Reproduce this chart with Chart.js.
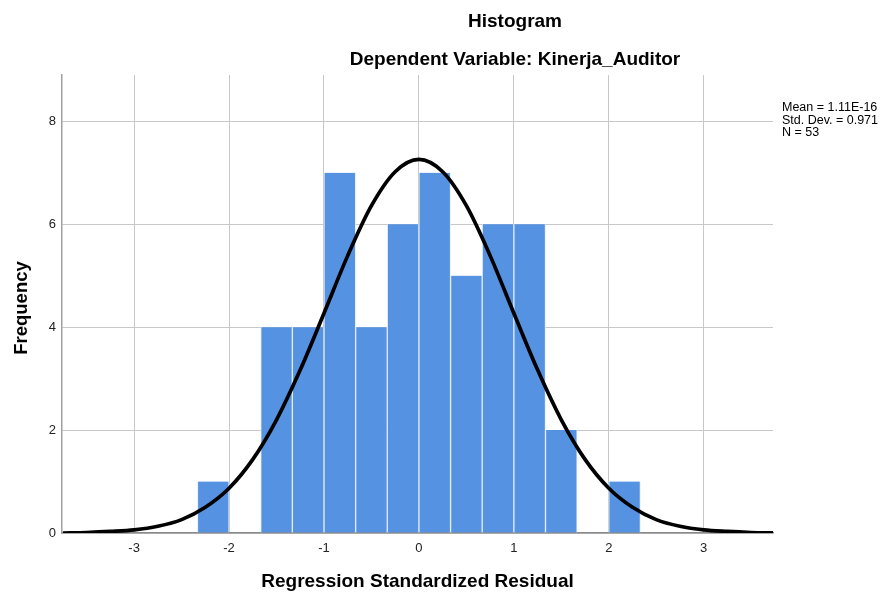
<!DOCTYPE html>
<html>
<head>
<meta charset="utf-8">
<script src="https://cdn.jsdelivr.net/npm/chart.js@4.4.1/dist/chart.umd.min.js"></script>
<style>
  html, body { margin: 0; padding: 0; background: #fff; }
  #wrap { width: 885px; height: 592px; position: relative; }
</style>
</head>
<body>
<div id="wrap"><canvas id="c" width="885" height="592"></canvas></div>
<script>
// Histogram bins (centres of 1/3-wide bins) and counts
const binCenters = [-2.1667, -1.8333, -1.5, -1.1667, -0.8333, -0.5, -0.1667, 0.1667, 0.5, 0.8333, 1.1667, 1.5, 1.8333, 2.1667];
const binCounts  = [1, 0, 4, 4, 7, 4, 6, 7, 5, 6, 6, 2, 0, 1];

// Normal curve
const curveX = [-3.75, -3.5, -3.25, -3, -2.75, -2.5, -2.25, -2, -1.75, -1.5, -1.25, -1, -0.75, -0.5, -0.25, 0, 0.25, 0.5, 0.75, 1, 1.25, 1.5, 1.75, 2, 2.25, 2.5, 2.75, 3, 3.25, 3.5, 3.75];
const curveY = [0.00, 0.01, 0.03, 0.06, 0.13, 0.26, 0.50, 0.87, 1.43, 2.20, 3.17, 4.27, 5.39, 6.36, 7.02, 7.26, 7.02, 6.36, 5.39, 4.27, 3.17, 2.20, 1.43, 0.87, 0.50, 0.26, 0.13, 0.06, 0.03, 0.01, 0.00];

const xTicks = [-3, -2, -1, 0, 1, 2, 3];
const yTicks = [0, 2, 4, 6, 8];

const titleLines = ["Histogram", "Dependent Variable: Kinerja_Auditor"];
const statsLines = ["Mean = 1.11E-16", "Std. Dev. = 0.971", "N = 53"];
const xTitle = "Regression Standardized Residual";
const yTitle = "Frequency";

const FONT = "'Liberation Sans', Arial, sans-serif";

const textPlugin = {
  id: 'texts',
  afterDraw(chart) {
    const ctx = chart.ctx;
    ctx.save();
    ctx.fillStyle = '#000';
    ctx.textAlign = 'center';
    ctx.textBaseline = 'middle';
    ctx.font = "bold 19px " + FONT;
    ctx.fillText(titleLines[0], 515, 22);
    ctx.fillText(titleLines[1], 515, 60);
    // y-axis title
    ctx.save();
    ctx.translate(22, 308);
    ctx.rotate(-Math.PI / 2);
    ctx.font = "bold 18.5px " + FONT;
    ctx.fillText(yTitle, 0, 0);
    ctx.restore();
    ctx.textAlign = 'left';
    ctx.font = "12.5px " + FONT;
    statsLines.forEach((s, i) => ctx.fillText(s, 782, 108 + i * 12.5));
    ctx.restore();
  }
};

new Chart(document.getElementById('c'), {
  type: 'bar',
  data: {
    datasets: [
      {
        type: 'line',
        data: curveX.map((x, i) => ({ x: x, y: curveY[i] })),
        borderColor: '#000',
        borderWidth: 3.7,
        pointRadius: 0,
        cubicInterpolationMode: 'monotone',
        fill: false,
        order: 0
      },
      {
        type: 'bar',
        data: binCenters.map((x, i) => ({ x: x, y: binCounts[i] })),
        backgroundColor: '#5592e2',
        borderColor: 'rgba(225,236,250,0.95)',
        borderWidth: { left: 1, right: 1, top: 0, bottom: 0 },
        borderSkipped: false,
        barPercentage: 1,
        categoryPercentage: 1,
        order: 1
      }
    ]
  },
  options: {
    responsive: false,
    animation: false,
    layout: { padding: { left: 0, right: 112, top: 75, bottom: 0 } },
    plugins: { legend: { display: false }, tooltip: { enabled: false }, title: { display: false } },
    scales: {
      x: {
        type: 'linear',
        min: -3.76,
        max: 3.73,
        offset: false,
        afterFit(s) { s.height = 59; },
        afterBuildTicks(s) { s.ticks = xTicks.map(v => ({ value: v })); },
        ticks: { color: '#222', font: { family: FONT, size: 13 }, padding: 8, maxRotation: 0 },
        grid: { color: '#c8c8c8', lineWidth: 1, drawTicks: false, offset: false },
        border: { color: '#8a8a8a', width: 1.5 },
        title: { display: true, text: xTitle, color: '#000', font: { family: FONT, size: 19, weight: 'bold' }, padding: { top: 0, bottom: -1 } }
      },
      y: {
        min: 0,
        max: 8.9,
        afterFit(s) { s.width = 62; },
        afterBuildTicks(s) { s.ticks = yTicks.map(v => ({ value: v })); },
        ticks: { color: '#222', font: { family: FONT, size: 13 }, padding: 6 },
        grid: { color: '#c8c8c8', lineWidth: 1, drawTicks: false, offset: false },
        border: { color: '#a0a0a0', width: 1.5 }
      }
    }
  },
  plugins: [textPlugin]
});
</script>
</body>
</html>
